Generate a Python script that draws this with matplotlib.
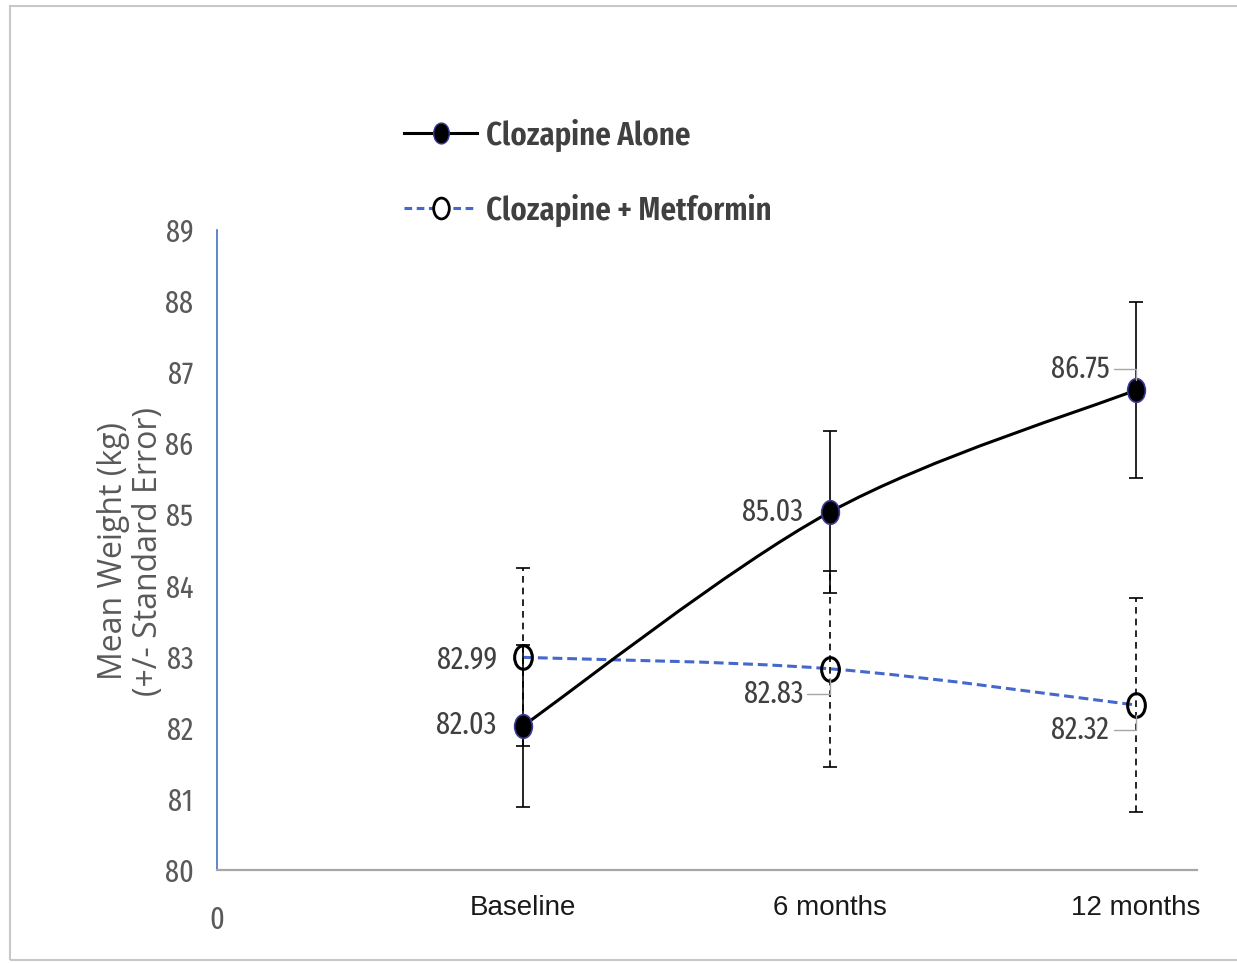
import matplotlib
matplotlib.use("Agg")
import matplotlib.pyplot as plt
from matplotlib.path import Path
from matplotlib.patches import PathPatch, Rectangle
from matplotlib.transforms import Affine2D
from matplotlib.lines import Line2D

# === data ===
time_points = ["Baseline", "6 months", "12 months"]
x_pos = [1, 2, 3]
alone_mean = [82.03, 85.03, 86.75]
alone_se = [1.14, 1.14, 1.24]
metf_mean = [82.99, 82.83, 82.32]
metf_se = [1.25, 1.38, 1.50]
y_ticks = [80, 81, 82, 83, 84, 85, 86, 87, 88, 89]

NARROW = ["Fira Sans Extra Condensed", "Carlito", "Liberation Sans", "DejaVu Sans"]
GRAY_TXT = "#595959"
DARK_TXT = "#404040"
BLUE = "#4468cc"


def smooth_path(xs, ys):
    # excel-like smoothed line: bezier segments through the data points
    pts = list(zip(xs, ys))
    n = len(pts)
    verts = [pts[0]]
    codes = [Path.MOVETO]
    for i in range(n - 1):
        p0 = pts[max(i - 1, 0)]
        p1 = pts[i]
        p2 = pts[i + 1]
        p3 = pts[min(i + 2, n - 1)]
        c1 = (p1[0] + (p2[0] - p0[0]) / 6, p1[1] + (p2[1] - p0[1]) / 6)
        c2 = (p2[0] - (p3[0] - p1[0]) / 6, p2[1] - (p3[1] - p1[1]) / 6)
        verts += [c1, c2, p2]
        codes += [Path.CURVE4] * 3
    return Path(verts, codes)


ellipse = Path.unit_circle().transformed(Affine2D().scale(0.75, 1.0))

fig = plt.figure(figsize=(12.37, 9.63), dpi=100)
ax = fig.add_axes([217 / 1237, 93 / 963, 980 / 1237, 640 / 963])

# lines
ax.add_patch(PathPatch(smooth_path(x_pos, metf_mean), fill=False, edgecolor=BLUE,
                       lw=2.2, linestyle=(0, (3.2, 1.6)), zorder=2))
ax.add_patch(PathPatch(smooth_path(x_pos, alone_mean), fill=False, edgecolor="black",
                       lw=2.2, zorder=3))

# error bars
eb = ax.errorbar(x_pos, metf_mean, yerr=metf_se, fmt="none", ecolor="black",
                 elinewidth=1.2, capsize=5, capthick=1.2, zorder=4)
eb[2][0].set_linestyle((0, (4, 3)))
ax.errorbar(x_pos, alone_mean, yerr=alone_se, fmt="none", ecolor="black",
            elinewidth=1.2, capsize=5, capthick=1.2, zorder=5)

# markers
ax.plot(x_pos, metf_mean, linestyle="none", marker=ellipse, markersize=17,
        markerfacecolor="none", markeredgecolor="black", markeredgewidth=2.2, zorder=6)
ax.plot(x_pos, alone_mean, linestyle="none", marker=ellipse, markersize=17,
        markerfacecolor="black", markeredgecolor="#3a3a9a", markeredgewidth=1.2, zorder=7)

# data labels
lbl_kw = dict(textcoords="offset points", ha="right", va="center",
              fontsize=22, color=DARK_TXT, family=NARROW, zorder=8)
leader = dict(arrowstyle="-", color="#a6a6a6", lw=1, shrinkA=1, shrinkB=7,
              connectionstyle="angle,angleA=0,angleB=90,rad=0")
offsets_alone = [(-19, 0), (-19, 0), (-19, 15)]
offsets_metf = [(-19, -2), (-19, -18), (-19, -18)]
for i, (x, y) in enumerate(zip(x_pos, alone_mean)):
    kw = dict(lbl_kw)
    if i == 2:
        kw["arrowprops"] = leader
    ax.annotate(f"{y:.2f}", xy=(x, y), xytext=offsets_alone[i], **kw)
for i, (x, y) in enumerate(zip(x_pos, metf_mean)):
    kw = dict(lbl_kw)
    if i > 0:
        kw["arrowprops"] = leader
    ax.annotate(f"{y:.2f}", xy=(x, y), xytext=offsets_metf[i], **kw)

# axes styling
ax.set_xlim(0, 3.2)
ax.set_ylim(80, 89)
ax.set_yticks(y_ticks)
ax.set_yticklabels([str(t) for t in y_ticks], family=NARROW, fontsize=22, color=GRAY_TXT)
ax.set_xticks(x_pos)
ax.set_xticklabels(time_points, fontsize=20, color="#1a1a1a", family="Liberation Sans")
ax.tick_params(axis="both", length=0)
ax.tick_params(axis="y", pad=17)
ax.tick_params(axis="x", pad=18)
zero = ax.text(0, 80, "0", ha="center", va="top",
               fontsize=22, color=GRAY_TXT, family=NARROW)
zero.set_transform(ax.transData + Affine2D().translate(0, -35))
ax.spines["top"].set_visible(False)
ax.spines["right"].set_visible(False)
ax.spines["left"].set_color("#4472c4")
ax.spines["left"].set_linewidth(1.2)
ax.spines["bottom"].set_color("#a6a6a6")
ax.spines["bottom"].set_linewidth(1.6)

fig.text(131 / 1237, 1 - 551 / 963, "Mean Weight (kg)\n(+/- Standard Error)",
         rotation=90, ha="center", va="center", multialignment="center",
         fontsize=23, color=GRAY_TXT, family="Open Sans", linespacing=1.05)

# legend
h_alone = Line2D([], [], color="black", lw=2.2, marker=ellipse, markersize=15,
                 markerfacecolor="black", markeredgecolor="#3a3a9a")
h_metf = Line2D([], [], color=BLUE, lw=2.2, linestyle=(0, (2.5, 1.5)), marker=ellipse,
                markersize=15, markerfacecolor="white", markeredgecolor="black",
                markeredgewidth=2)
fig.legend([h_alone, h_metf], ["Clozapine Alone", "Clozapine + Metformin"],
           loc="center left", bbox_to_anchor=(374 / 1237, 1 - 173 / 963),
           frameon=False, handlelength=2.2, handletextpad=0.25, labelspacing=1.25,
           prop=dict(family=NARROW, weight="semibold", size=24), labelcolor=DARK_TXT)

# figure border
fig.patches.append(Rectangle((10 / 1237, 3 / 963), 1.1, 954 / 963, transform=fig.transFigure,
                             fill=False, edgecolor="#c8c8c8", lw=1.5))

fig.savefig("out.png", dpi=100)
